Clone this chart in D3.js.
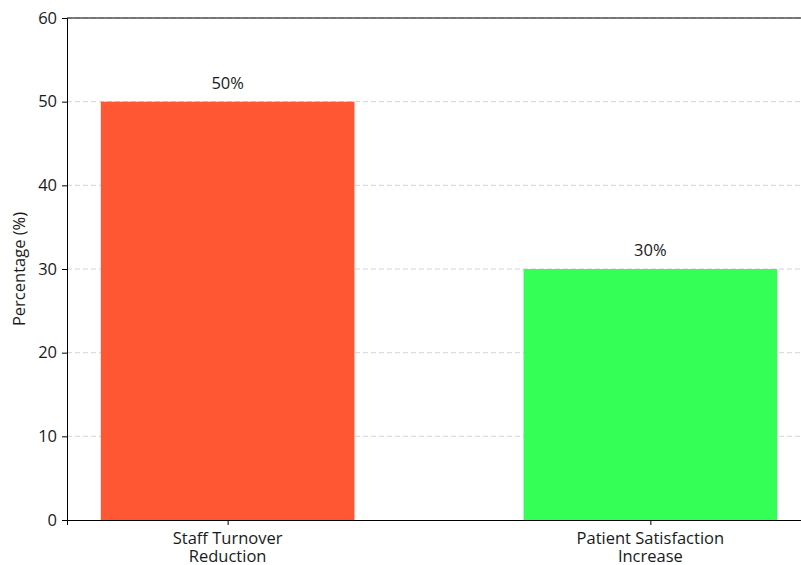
<!DOCTYPE html>
<html>
<head>
<meta charset="utf-8">
<script src="https://cdn.jsdelivr.net/npm/d3@7"></script>
<style>
  body { margin: 0; background: #fff; }
  svg { font-family: "Open Sans", Inter, sans-serif; }
</style>
</head>
<body>
<div id="chart"></div>
<script>
const categories = [["Staff Turnover", "Reduction"], ["Patient Satisfaction", "Increase"]];
const values = [50, 30];
const colors = ["#FF5733", "#33FF57"];
const yTicks = [0, 10, 20, 30, 40, 50, 60];

const WIDTH = 801, HEIGHT = 565;
const BAR_WIDTH = 0.6;
const M_LEFT = 67, M_RIGHT = 811, M_TOP = 18, M_BOTTOM = 520;
const FONT = "16.5px";
const INK = "#1a1a1a";

const svg = d3.select("#chart").append("svg")
  .attr("width", WIDTH)
  .attr("height", HEIGHT);

const x = d3.scaleLinear().domain([-0.38, 1.38]).range([M_LEFT, M_RIGHT]);
const y = d3.scaleLinear().domain([0, 60]).range([M_BOTTOM, M_TOP]);

// grid
svg.append("g")
  .selectAll("line")
  .data(yTicks.slice(1))
  .join("line")
  .attr("x1", M_LEFT).attr("x2", M_RIGHT)
  .attr("y1", d => y(d)).attr("y2", d => y(d))
  .attr("stroke", "#c8c8c8")
  .attr("stroke-dasharray", "5,3")
  .attr("stroke-width", 0.8);

// bars
svg.append("g")
  .selectAll("rect")
  .data(values)
  .join("rect")
  .attr("x", (d, i) => x(i - BAR_WIDTH / 2))
  .attr("width", x(BAR_WIDTH) - x(0))
  .attr("y", d => y(d))
  .attr("height", d => y(0) - y(d))
  .attr("fill", (d, i) => colors[i]);

// value labels
svg.append("g")
  .selectAll("text")
  .data(values)
  .join("text")
  .attr("x", (d, i) => x(i))
  .attr("y", d => y(d) - 13)
  .attr("text-anchor", "middle")
  .attr("font-size", FONT)
  .attr("fill", INK)
  .text(d => d + "%");

// y axis
const yAxis = svg.append("g")
  .attr("transform", `translate(${M_LEFT},0)`)
  .call(d3.axisLeft(y).tickValues(yTicks).tickSize(5).tickPadding(5));
yAxis.select(".domain").attr("stroke", "#000");
yAxis.selectAll("text").attr("font-size", FONT).attr("fill", INK).attr("font-family", "'Open Sans', sans-serif");

// x axis
const xAxis = svg.append("g")
  .attr("transform", `translate(0,${M_BOTTOM})`)
  .call(d3.axisBottom(x).tickValues([0, 1]).tickSize(5).tickFormat(""));
xAxis.select(".domain").attr("stroke", "#000");

svg.append("g")
  .selectAll("text")
  .data(categories)
  .join("text")
  .attr("x", (d, i) => x(i))
  .attr("y", M_BOTTOM + 24)
  .attr("text-anchor", "middle")
  .attr("font-size", FONT)
  .attr("fill", INK)
  .selectAll("tspan")
  .data(d => d)
  .join("tspan")
  .attr("x", function () { return d3.select(this.parentNode).attr("x"); })
  .attr("dy", (d, i) => i === 0 ? 0 : 18)
  .text(d => d);

// top spine
svg.append("line")
  .attr("x1", M_LEFT).attr("x2", M_RIGHT)
  .attr("y1", M_TOP).attr("y2", M_TOP)
  .attr("stroke", "#000");

// y label
svg.append("text")
  .attr("transform", `translate(25,${(M_TOP + M_BOTTOM) / 2}) rotate(-90)`)
  .attr("text-anchor", "middle")
  .attr("font-size", FONT)
  .attr("fill", INK)
  .text("Percentage (%)");
</script>
</body>
</html>
